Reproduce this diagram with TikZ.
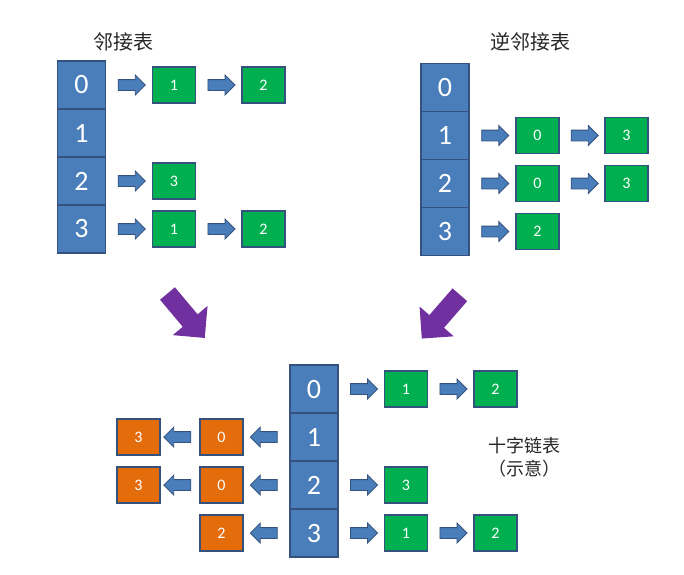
\documentclass[tikz,border=0pt]{standalone}
\usepackage{fontspec}
\setmainfont{Carlito}
\newfontfamily\cjk{Noto Sans CJK SC}
\usetikzlibrary{shapes.arrows}
\definecolor{cellblue}{RGB}{74,126,187}
\definecolor{cellline}{RGB}{52,82,125}
\definecolor{boxgreen}{RGB}{0,176,80}
\definecolor{boxorange}{RGB}{228,108,10}
\definecolor{bigpurple}{RGB}{112,48,160}
\tikzset{
  title/.style={text=black!85, font=\cjk\fontsize{20}{24}\selectfont, inner sep=0pt},
  head/.style={draw=cellline, fill=cellblue, line width=1.5pt, minimum width=48pt, minimum height=48pt, inner sep=0pt, text=white, font=\fontsize{28}{28}\selectfont},
  outnode/.style={draw=cellline, fill=boxgreen, line width=1.5pt, minimum width=43pt, minimum height=36pt, inner sep=0pt, text=white, font=\fontsize{16}{16}\selectfont},
  innode/.style={outnode, fill=boxorange},
  blkarr/.style={single arrow, draw=cellline, fill=cellblue, line width=0.8pt, minimum height=27pt, inner sep=5pt, single arrow head extend=4.5pt},
  bigarr/.style={single arrow, fill=bigpurple, minimum height=58pt, inner sep=9.5pt, single arrow head extend=13pt}
}
\begin{document}
\begin{tikzpicture}[x=1pt, y=-1pt]
\useasboundingbox (0,0) rectangle (684,574);

% adjacency list
\node[title] (tadj) at (123,42) {邻接表};
\node[head] (a0) at (81.5,85) {0};
\node[head] (a1) at (81.5,133) {1};
\node[head] (a2) at (81.5,181) {2};
\node[head] (a3) at (81.5,229) {3};
\node[outnode] (a01) at (174,85) {1};
\node[outnode] (a02) at (263.5,85) {2};
\node[outnode] (a23) at (174,181) {3};
\node[outnode] (a31) at (174,229) {1};
\node[outnode] (a32) at (263.5,229) {2};
\path (a0) -- (a01) node[midway, blkarr] {};
\path (a01) -- (a02) node[midway, blkarr] {};
\path (a2) -- (a23) node[midway, blkarr] {};
\path (a3) -- (a31) node[midway, blkarr] {};
\path (a31) -- (a32) node[midway, blkarr] {};

% inverse adjacency list
\node[title] (tinv) at (530,42) {逆邻接表};
\node[head] (r0) at (445,87.5) {0};
\node[head] (r1) at (445,135.5) {1};
\node[head] (r2) at (445,183.5) {2};
\node[head] (r3) at (445,231.5) {3};
\node[outnode] (r10) at (537.5,135.5) {0};
\node[outnode] (r13) at (626.5,135.5) {3};
\node[outnode] (r20) at (537.5,183.5) {0};
\node[outnode] (r23) at (626.5,183.5) {3};
\node[outnode] (r32) at (537.5,231.5) {2};
\path (r1) -- (r10) node[midway, blkarr] {};
\path (r10) -- (r13) node[midway, blkarr] {};
\path (r2) -- (r20) node[midway, blkarr] {};
\path (r20) -- (r23) node[midway, blkarr] {};
\path (r3) -- (r32) node[midway, blkarr] {};

% purple arrows
\node[bigarr, rotate=-50] (pl) at (183,312) {};
\node[bigarr, rotate=-131] (pr) at (444,313) {};

% orthogonal list
\node[head] (x0) at (314,389) {0};
\node[head] (x1) at (314,437) {1};
\node[head] (x2) at (314,485) {2};
\node[head] (x3) at (314,533) {3};
\node[outnode] (x01) at (406,389) {1};
\node[outnode] (x02) at (495.5,389) {2};
\node[outnode] (x23) at (406,485) {3};
\node[outnode] (x31) at (406,533) {1};
\node[outnode] (x32) at (495.5,533) {2};
\node[innode] (y10) at (221.5,437) {0};
\node[innode] (y13) at (138.5,437) {3};
\node[innode] (y20) at (221.5,485) {0};
\node[innode] (y23) at (138.5,485) {3};
\node[innode] (y32) at (221.5,533) {2};
\path (x0) -- (x01) node[midway, blkarr] {};
\path (x01) -- (x02) node[midway, blkarr] {};
\path (x2) -- (x23) node[midway, blkarr] {};
\path (x3) -- (x31) node[midway, blkarr] {};
\path (x31) -- (x32) node[midway, blkarr] {};
\path (x1) -- (y10) node[midway, blkarr, shape border rotate=180] {};
\path (y10) -- (y13) node[midway, blkarr, shape border rotate=180] {};
\path (x2) -- (y20) node[midway, blkarr, shape border rotate=180] {};
\path (y20) -- (y23) node[midway, blkarr, shape border rotate=180] {};
\path (x3) -- (y32) node[midway, blkarr, shape border rotate=180] {};
\node[title, align=center, font=\cjk\fontsize{18}{23}\selectfont] (tcross) at (524,457) {十字链表\\（示意）};
\end{tikzpicture}
\end{document}
